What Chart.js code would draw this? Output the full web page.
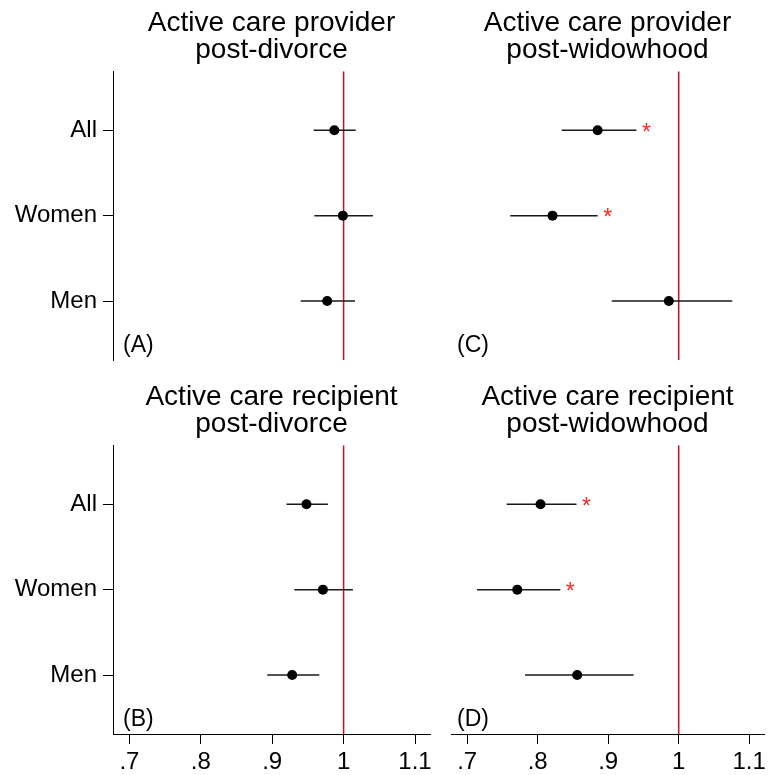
<!DOCTYPE html>
<html>
<head>
<meta charset="utf-8">
<script src="https://cdn.jsdelivr.net/npm/chart.js@4.4.1/dist/chart.umd.min.js"></script>
<style>
  html, body { margin: 0; padding: 0; background: #fff; }
  #wrap { position: relative; width: 769px; height: 775px; background: #fff; overflow: hidden; }
  canvas { position: absolute; }
</style>
</head>
<body>
<div id="wrap">
  <canvas id="pA" width="440" height="374" style="left:0;top:0"></canvas>
  <canvas id="pC" width="329" height="374" style="left:440px;top:0"></canvas>
  <canvas id="pB" width="440" height="401" style="left:0;top:374px"></canvas>
  <canvas id="pD" width="329" height="401" style="left:440px;top:374px"></canvas>
</div>
<script>
// ---------- data ----------
const categories = ['All', 'Women', 'Men'];
const catPos = [3, 2, 1];

const xTickValues = [0.7, 0.8, 0.9, 1.0, 1.1];
const xTickLabels = ['.7', '.8', '.9', '1', '1.1'];
const refValue = 1;

// (A) Active care provider, post-divorce
const provDivEst = [0.987, 0.999, 0.977];
const provDivLo  = [0.958, 0.959, 0.940];
const provDivHi  = [1.017, 1.041, 1.016];
const provDivSig = [false, false, false];

// (C) Active care provider, post-widowhood
const provWidEst = [0.885, 0.821, 0.986];
const provWidLo  = [0.834, 0.761, 0.905];
const provWidHi  = [0.940, 0.885, 1.076];
const provWidSig = [true, true, false];

// (B) Active care recipient, post-divorce
const recDivEst = [0.948, 0.971, 0.928];
const recDivLo  = [0.920, 0.931, 0.893];
const recDivHi  = [0.978, 1.013, 0.966];
const recDivSig = [false, false, false];

// (D) Active care recipient, post-widowhood
const recWidEst = [0.804, 0.771, 0.856];
const recWidLo  = [0.756, 0.714, 0.782];
const recWidHi  = [0.855, 0.832, 0.936];
const recWidSig = [true, true, false];

// ---------- style ----------
const FONT = '"Liberation Sans", Arial, Helvetica, sans-serif';
Chart.defaults.font.family = FONT;
Chart.defaults.color = '#000';

const X_MIN = 0.677, X_MAX = 1.121;
const Y_MIN = 0.31, Y_MAX = 3.69;

const starPlugin = {
  id: 'stars',
  afterDatasetsDraw(chart, args, opts) {
    const ctx = chart.ctx;
    const xs = chart.scales.x, ys = chart.scales.y;
    ctx.save();
    ctx.fillStyle = '#ff2a1f';
    ctx.font = '23px ' + FONT;
    ctx.textAlign = 'center';
    ctx.textBaseline = 'alphabetic';
    opts.sig.forEach((s, i) => {
      if (!s) return;
      const x = xs.getPixelForValue(opts.hi[i]) + 10;
      const y = ys.getPixelForValue(catPos[i]);
      ctx.fillText('*', x, y + 9.5);
    });
    ctx.restore();
  }
};

const panelLabelPlugin = {
  id: 'panelLabel',
  afterDraw(chart, args, opts) {
    const ctx = chart.ctx;
    const a = chart.chartArea;
    ctx.save();
    ctx.fillStyle = '#000';
    ctx.font = '23px ' + FONT;
    ctx.textAlign = 'left';
    ctx.textBaseline = 'middle';
    ctx.fillText(opts.text, a.left + opts.dx, a.bottom - 14);
    ctx.restore();
  }
};

function makePanel(id, cfg) {
  const datasets = [];
  datasets.push({
    type: 'scatter',
    data: cfg.est.map((v, i) => ({ x: v, y: catPos[i] })),
    pointRadius: 5,
    pointHoverRadius: 5,
    backgroundColor: '#000',
    borderWidth: 0,
    order: 0
  });
  cfg.lo.forEach((lo, i) => {
    datasets.push({
      type: 'line',
      data: [{ x: lo, y: catPos[i] }, { x: cfg.hi[i], y: catPos[i] }],
      borderColor: '#1a1a1a',
      borderWidth: 1.5,
      pointRadius: 0,
      fill: false,
      order: 1
    });
  });
  datasets.push({
    type: 'line',
    data: [{ x: refValue, y: Y_MIN }, { x: refValue, y: Y_MAX }],
    borderColor: '#c8102e',
    borderWidth: 1.5,
    pointRadius: 0,
    fill: false,
    order: 2
  });

  new Chart(document.getElementById(id), {
    type: 'scatter',
    data: { datasets },
    plugins: [starPlugin, panelLabelPlugin],
    options: {
      responsive: false,
      animation: false,
      devicePixelRatio: 1,
      events: [],
      layout: { padding: { left: cfg.padLeft, right: cfg.padRight, top: 0, bottom: cfg.showX ? 0 : 14 } },
      plugins: {
        legend: { display: false },
        tooltip: { enabled: false },
        title: {
          display: true,
          text: cfg.title,
          fullSize: false,
          color: '#000',
          font: { size: 28, weight: 'normal', lineHeight: 0.97 },
          padding: { top: 10, bottom: 7 }
        },
        stars: { sig: cfg.sig, hi: cfg.hi },
        panelLabel: { text: cfg.label, dx: cfg.labelDx }
      },
      scales: {
        x: {
          type: 'linear',
          min: X_MIN,
          max: X_MAX,
          display: cfg.showX,
          afterBuildTicks(s) { s.ticks = xTickValues.map(v => ({ value: v })); },
          afterFit(s) { s.height = cfg.showX ? 41 : 0; s.paddingLeft = 0; s.paddingRight = 0; },
          ticks: {
            autoSkip: false,
            maxRotation: 0,
            padding: 4,
            font: { size: 24 },
            color: '#000',
            callback: (v, i) => xTickLabels[i]
          },
          grid: { display: true, drawOnChartArea: false, drawTicks: true, tickLength: 10, color: '#000', lineWidth: 1 },
          border: { display: true, color: '#000', width: 1 }
        },
        y: {
          type: 'linear',
          min: Y_MIN,
          max: Y_MAX,
          display: cfg.showY,
          afterBuildTicks(s) { s.ticks = catPos.map(v => ({ value: v })); },
          afterFit(s) { s.width = cfg.showY ? 113 : 0; s.paddingTop = 0; s.paddingBottom = 0; },
          ticks: {
            autoSkip: false,
            padding: 6,
            font: { size: 24 },
            color: '#000',
            callback: (v) => categories[catPos.indexOf(v)]
          },
          grid: { display: true, drawOnChartArea: false, drawTicks: true, tickLength: 10, color: '#000', lineWidth: 1 },
          border: { display: true, color: '#000', width: 1 }
        }
      }
    }
  });
}

makePanel('pA', { title: ['Active care provider', 'post-divorce'], est: provDivEst, lo: provDivLo, hi: provDivHi, sig: provDivSig, label: '(A)', labelDx: 10, showX: false, showY: true, padLeft: 0, padRight: 10 });
makePanel('pC', { title: ['Active care provider', 'post-widowhood'], est: provWidEst, lo: provWidLo, hi: provWidHi, sig: provWidSig, label: '(C)', labelDx: 6, showX: false, showY: false, padLeft: 11, padRight: 0 });
makePanel('pB', { title: ['Active care recipient', 'post-divorce'], est: recDivEst, lo: recDivLo, hi: recDivHi, sig: recDivSig, label: '(B)', labelDx: 10, showX: true, showY: true, padLeft: 0, padRight: 10 });
makePanel('pD', { title: ['Active care recipient', 'post-widowhood'], est: recWidEst, lo: recWidLo, hi: recWidHi, sig: recWidSig, label: '(D)', labelDx: 6, showX: true, showY: false, padLeft: 11, padRight: 0 });
</script>
</body>
</html>
